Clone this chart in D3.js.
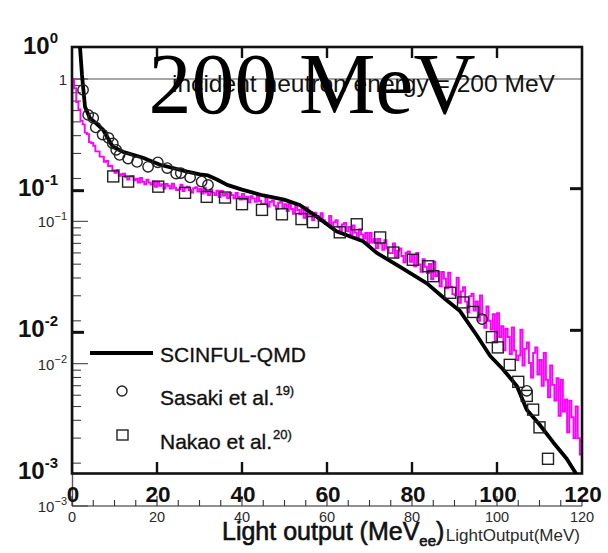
<!DOCTYPE html>
<html>
<head>
<meta charset="utf-8">
<script src="https://cdn.jsdelivr.net/npm/d3@7"></script>
<style>
  html, body { margin: 0; padding: 0; background: #fff; }
  svg { display: block; }
</style>
</head>
<body>
<svg id="chart" width="608" height="553"></svg>
<script>
// ---- data ----------------------------------------------------------------
const titleText = "200 MeV";
const energyNote = "incident neutron energy = 200 MeV";

// SCINFUL-QMD calculation: light output (MeVee) vs response
const scinfulX = [1.9, 2.35, 3.06, 4.2, 7.3, 9.6, 12.0, 16.7, 20.7, 27.1, 30.1, 32.0, 34.1, 36.5, 40.0, 45.0, 49.9, 53.6,
                  57.6, 62.3, 68.5, 71.7, 77.0, 83.5, 88.0, 91.3, 95.3, 98.4, 101.4, 104.7, 107.0, 110.0, 113.2, 116.4, 118.5];
const scinfulY = [1.0, 0.645, 0.384, 0.321, 0.265, 0.201, 0.185, 0.168, 0.150, 0.134, 0.128, 0.126, 0.118, 0.108, 0.100, 0.091, 0.085, 0.078,
                  0.0645, 0.0506, 0.0432, 0.0358, 0.0287, 0.0218, 0.0167, 0.0139, 0.0093, 0.0067, 0.0054, 0.0041, 0.0028, 0.0022, 0.00165, 0.00126, 0.00100];

// Sasaki et al. measurement
const sasakiX = [2.6, 3.8, 5.0, 5.6, 7.2, 8.6, 9.6, 10.4, 11.2, 13.2, 15.3, 17.9, 20.2, 22.4, 24.5, 25.6, 27.8, 30.5, 32.0, 96.5, 107.0];
const sasakiY = [0.506, 0.337, 0.321, 0.275, 0.245, 0.232, 0.212, 0.191, 0.176, 0.166, 0.157, 0.145, 0.156, 0.142, 0.130, 0.131, 0.122, 0.114, 0.108, 0.0122, 0.0038];

// Nakao et al. measurement
const nakaoX = [9.7, 13.2, 20.3, 26.6, 31.7, 36.0, 40.0, 44.7, 49.4, 54.0, 56.7, 63.0, 67.0, 72.5, 75.6, 80.2, 83.8, 85.0,
                89.0, 92.0, 94.4, 98.8, 100.2, 103.0, 105.0, 107.0, 108.5, 110.0, 112.0];
const nakaoY = [0.124, 0.114, 0.105, 0.095, 0.089, 0.088, 0.079, 0.072, 0.067, 0.062, 0.059, 0.050, 0.057, 0.046, 0.036, 0.032, 0.0288, 0.0245,
                0.0187, 0.016, 0.0137, 0.0091, 0.0077, 0.0058, 0.0044, 0.0035, 0.0028, 0.0021, 0.00126];

// Simulated light-output histogram, 0.5 MeV bins from 0 to 120 MeV
const histStart = 0;
const histBinWidth = 0.5;
const histCounts = [
  1.0, 0.86, 0.69, 0.61, 0.51, 0.48, 0.42, 0.41, 0.36, 0.355,
  0.34, 0.31, 0.31, 0.285, 0.285, 0.262, 0.266, 0.245, 0.246, 0.228,
  0.2196, 0.2298, 0.2092, 0.2147, 0.2159, 0.2045, 0.1968, 0.2060, 0.2072, 0.1940,
  0.1995, 0.1870, 0.2017, 0.1893, 0.1823, 0.1958, 0.187, 0.1810, 0.1908, 0.1748,
  0.1902, 0.1774, 0.1827, 0.1701, 0.1833, 0.1779, 0.1698, 0.1838, 0.1723, 0.1661,
  0.1678, 0.1806, 0.1633, 0.1717, 0.1749, 0.1655, 0.1596, 0.1712, 0.1735, 0.1619,
  0.1686, 0.1568, 0.1720, 0.1602, 0.1530, 0.1670, 0.159, 0.1528, 0.1641, 0.1484,
  0.1637, 0.1516, 0.1565, 0.1455, 0.1580, 0.1528, 0.1452, 0.1583, 0.1484, 0.1424,
  0.156, 0.143, 0.149, 0.136, 0.150, 0.145, 0.137, 0.151, 0.139, 0.133,
  0.133, 0.147, 0.127, 0.137, 0.140, 0.129, 0.122, 0.135, 0.137, 0.124,
  0.132, 0.118, 0.135, 0.122, 0.113, 0.129, 0.120, 0.112, 0.124, 0.106,
  0.125, 0.111, 0.116, 0.102, 0.115, 0.109, 0.101, 0.114, 0.102, 0.096,
  0.0965, 0.109, 0.091, 0.0987, 0.102, 0.0915, 0.0846, 0.0951, 0.0973, 0.085,
  0.0912, 0.0807, 0.0937, 0.0835, 0.0763, 0.0879, 0.081, 0.0757, 0.0829, 0.0701,
  0.0828, 0.0710, 0.0752, 0.0648, 0.0753, 0.0697, 0.0632, 0.0737, 0.0647, 0.0598,
  0.0598, 0.0699, 0.0559, 0.0623, 0.0646, 0.0571, 0.0516, 0.0601, 0.0615, 0.0520,
  0.0579, 0.0484, 0.0599, 0.0497, 0.0442, 0.0541, 0.048, 0.0433, 0.0502, 0.0392,
  0.0520, 0.0412, 0.0441, 0.0349, 0.0441, 0.0396, 0.0339, 0.0435, 0.0348, 0.0308,
  0.0302, 0.0401, 0.0268, 0.0322, 0.0344, 0.0273, 0.0230, 0.0298, 0.0310, 0.0236,
  0.0274, 0.0200, 0.0302, 0.0220, 0.0179, 0.0252, 0.0200, 0.0174, 0.0223, 0.0143,
  0.0226, 0.0154, 0.0183, 0.0124, 0.0175, 0.0154, 0.0117, 0.0180, 0.0124, 0.0106,
  0.0114, 0.0173, 0.0097, 0.0127, 0.0141, 0.0101, 0.0080, 0.0119, 0.0130, 0.0084,
  0.0106, 0.0070, 0.0119, 0.0077, 0.0058, 0.0097, 0.0071, 0.0055, 0.0079, 0.0043,
  0.0077, 0.0046, 0.0056, 0.0033, 0.0055, 0.0042, 0.0030, 0.0050, 0.0030, 0.0023
];

// axis labelling
const xTickValues = [0, 20, 40, 60, 80, 100, 120];
const decadeExponents = [0, -1, -2, -3];
const legendLabels = ["SCINFUL-QMD", "Sasaki et al.", "Nakao et al."];
const legendRefs = ["", "19)", "20)"];
const xTitleMain = "Light output (MeV";
const xTitleSub = "ee";
const histAxisTitle = "LightOutput(MeV)";

// ---- drawing -------------------------------------------------------------
const svg = d3.select("#chart");
const SANS = "'Liberation Sans', Arial, Helvetica, sans-serif";
const SERIF = "'Liberation Serif', 'Times New Roman', Times, serif";
const INK = "#111";

svg.append("rect").attr("width", 608).attr("height", 553).attr("fill", "#fff");

const x = d3.scaleLinear().domain([0, 120]).range([72, 582]);
// published figure frame
const yPub = d3.scaleLog().domain([1e-3, 1]).range([473, 48]);
// histogram frame
const yHist = d3.scaleLog().domain([1e-3, 1]).range([506, 79]);

const defs = svg.append("defs");
defs.append("clipPath").attr("id", "clipPub")
  .append("rect").attr("x", 72).attr("y", 47).attr("width", 510).attr("height", 427);
defs.append("clipPath").attr("id", "clipHist")
  .append("rect").attr("x", 72).attr("y", 78).attr("width", 510).attr("height", 428);

// ---------- histogram frame (thin axes) ----------
const hAx = svg.append("g");
hAx.append("line").attr("x1", 72).attr("x2", 582).attr("y1", yHist(1)).attr("y2", yHist(1))
  .attr("stroke", "#8a8a8a").attr("stroke-width", 1.6);
hAx.append("line").attr("x1", 72.5).attr("x2", 72.5).attr("y1", yHist(1)).attr("y2", 506)
  .attr("stroke", "#555").attr("stroke-width", 1.4);
hAx.append("line").attr("x1", 72).attr("x2", 582).attr("y1", 506).attr("y2", 506)
  .attr("stroke", "#222").attr("stroke-width", 1.2);

yHist.ticks().forEach(v => {
  const major = Math.abs(Math.log10(v) - Math.round(Math.log10(v))) < 1e-9;
  hAx.append("line").attr("x1", 72).attr("x2", 72 + (major ? 16 : 9))
    .attr("y1", yHist(v)).attr("y2", yHist(v))
    .attr("stroke", "#444").attr("stroke-width", 1.1);
});
d3.range(0, 121, 5).forEach(v => {
  const major = v % 20 === 0;
  hAx.append("line").attr("x1", x(v)).attr("x2", x(v))
    .attr("y1", 506).attr("y2", 506 - (major ? 10 : 6))
    .attr("stroke", "#333").attr("stroke-width", 1.1);
});
xTickValues.forEach(v => {
  hAx.append("text").attr("x", x(v)).attr("y", 522).attr("text-anchor", "middle")
    .attr("font-family", SANS).attr("font-size", 14.5).attr("fill", "#2a2a2a").text(v);
});
decadeExponents.forEach(e => {
  const t = hAx.append("text").attr("x", 67).attr("y", yHist(Math.pow(10, e)) + 6)
    .attr("text-anchor", "end").attr("font-family", SANS).attr("fill", "#2a2a2a");
  if (e === 0) {
    t.attr("font-size", 15).text("1");
  } else {
    t.append("tspan").attr("font-size", 15).text("10");
    t.append("tspan").attr("font-size", 11).attr("dy", -7).text("\u2212" + (-e));
  }
});
hAx.append("text").attr("x", 580).attr("y", 541).attr("text-anchor", "end")
  .attr("font-family", SANS).attr("font-size", 17).attr("fill", "#2a2a2a").text(histAxisTitle);

// ---------- histogram ----------
const histPts = histCounts.map((c, i) => [histStart + i * histBinWidth, c]);
histPts.push([histStart + histCounts.length * histBinWidth, histCounts[histCounts.length - 1]]);
svg.append("path")
  .attr("clip-path", "url(#clipHist)")
  .attr("d", d3.line().curve(d3.curveStepAfter).x(d => x(d[0])).y(d => yHist(d[1]))(histPts))
  .attr("fill", "none").attr("stroke", "#ff00ff").attr("stroke-width", 1.9);

// ---------- published frame ----------
const pub = svg.append("g");
pub.append("rect").attr("x", 72).attr("y", 47).attr("width", 510).attr("height", 426.5)
  .attr("fill", "none").attr("stroke", INK).attr("stroke-width", 2.6);
[20, 40, 60, 80, 100].forEach(v => {
  pub.append("line").attr("x1", x(v)).attr("x2", x(v)).attr("y1", 473).attr("y2", 462)
    .attr("stroke", INK).attr("stroke-width", 2.4);
  pub.append("line").attr("x1", x(v)).attr("x2", x(v)).attr("y1", 47).attr("y2", 58)
    .attr("stroke", INK).attr("stroke-width", 2.4);
});
[1e-1, 1e-2].forEach(v => {
  pub.append("line").attr("x1", 72).attr("x2", 84).attr("y1", yPub(v) + 1).attr("y2", yPub(v) + 1)
    .attr("stroke", INK).attr("stroke-width", 3);
  pub.append("line").attr("x1", 582).attr("x2", 570).attr("y1", yPub(v) - 1).attr("y2", yPub(v) - 1)
    .attr("stroke", INK).attr("stroke-width", 3);
});
xTickValues.forEach(v => {
  pub.append("text").attr("x", x(v) + 1).attr("y", 502).attr("text-anchor", "middle")
    .attr("font-family", SANS).attr("font-weight", "bold").attr("font-size", 22.5)
    .attr("fill", INK).text(v);
});
decadeExponents.forEach(e => {
  const t = pub.append("text").attr("x", 58).attr("y", yPub(Math.pow(10, e)) + 6)
    .attr("text-anchor", "end").attr("font-family", SANS).attr("font-weight", "bold").attr("fill", INK);
  t.append("tspan").attr("font-size", 24).text("10");
  t.append("tspan").attr("font-size", 15).attr("dy", -11).text(e === 0 ? "0" : "-" + (-e));
});

// x-axis title
const xt = pub.append("text").attr("x", 222).attr("y", 540)
  .attr("font-family", SANS).attr("font-size", 25).attr("fill", INK)
  .attr("stroke", INK).attr("stroke-width", 0.6);
xt.append("tspan").text(xTitleMain);
xt.append("tspan").attr("font-size", 15).attr("dy", 6).text(xTitleSub);
xt.append("tspan").attr("dy", -6).text(")");

// energy note under the big title
pub.append("text").attr("x", 172).attr("y", 92)
  .attr("font-family", SANS).attr("font-size", 24).attr("fill", INK)
  .attr("textLength", 383).attr("lengthAdjust", "spacingAndGlyphs").text(energyNote);

// SCINFUL-QMD curve
const curvePts = scinfulX.map((v, i) => [v, scinfulY[i]]);
pub.append("path").attr("clip-path", "url(#clipPub)")
  .attr("d", d3.line().x(d => x(d[0])).y(d => yPub(d[1]))([[scinfulX[0] - 0.15, 1.6]].concat(curvePts)))
  .attr("fill", "none").attr("stroke", "#000").attr("stroke-width", 3.8)
  .attr("stroke-linejoin", "round").attr("stroke-linecap", "round");

// Sasaki circles
pub.selectAll("circle.sasaki").data(sasakiX.map((v, i) => [v, sasakiY[i]])).join("circle")
  .attr("class", "sasaki")
  .attr("cx", d => x(d[0])).attr("cy", d => yPub(d[1])).attr("r", 5.2)
  .attr("fill", "none").attr("stroke", "#222").attr("stroke-width", 1.4);

// Nakao squares
pub.selectAll("rect.nakao").data(nakaoX.map((v, i) => [v, nakaoY[i]])).join("rect")
  .attr("class", "nakao")
  .attr("x", d => x(d[0]) - 5.5).attr("y", d => yPub(d[1]) - 5.5).attr("width", 11).attr("height", 11)
  .attr("fill", "none").attr("stroke", "#222").attr("stroke-width", 1.4);

// legend
const lg = pub.append("g");
lg.append("line").attr("x1", 90).attr("x2", 153).attr("y1", 353).attr("y2", 353)
  .attr("stroke", "#000").attr("stroke-width", 4);
lg.append("circle").attr("cx", 122).attr("cy", 391).attr("r", 5)
  .attr("fill", "none").attr("stroke", "#222").attr("stroke-width", 1.4);
lg.append("rect").attr("x", 117).attr("y", 430).attr("width", 11).attr("height", 10)
  .attr("fill", "none").attr("stroke", "#222").attr("stroke-width", 1.4);
[362, 405, 449].forEach((yb, i) => {
  const t = lg.append("text").attr("x", 160).attr("y", yb)
    .attr("font-family", SANS).attr("font-size", 21).attr("fill", INK)
    .attr("stroke", INK).attr("stroke-width", 0.35);
  t.append("tspan").text(legendLabels[i]);
  if (legendRefs[i]) {
    t.append("tspan").attr("font-size", 13).attr("dy", -10).attr("dx", 1).text(legendRefs[i]);
  }
});

// big title
svg.append("text").attr("x", 312).attr("y", 113).attr("text-anchor", "middle")
  .attr("font-family", SERIF).attr("font-size", 86).attr("fill", "#000")
  .text(titleText);
</script>
</body>
</html>
